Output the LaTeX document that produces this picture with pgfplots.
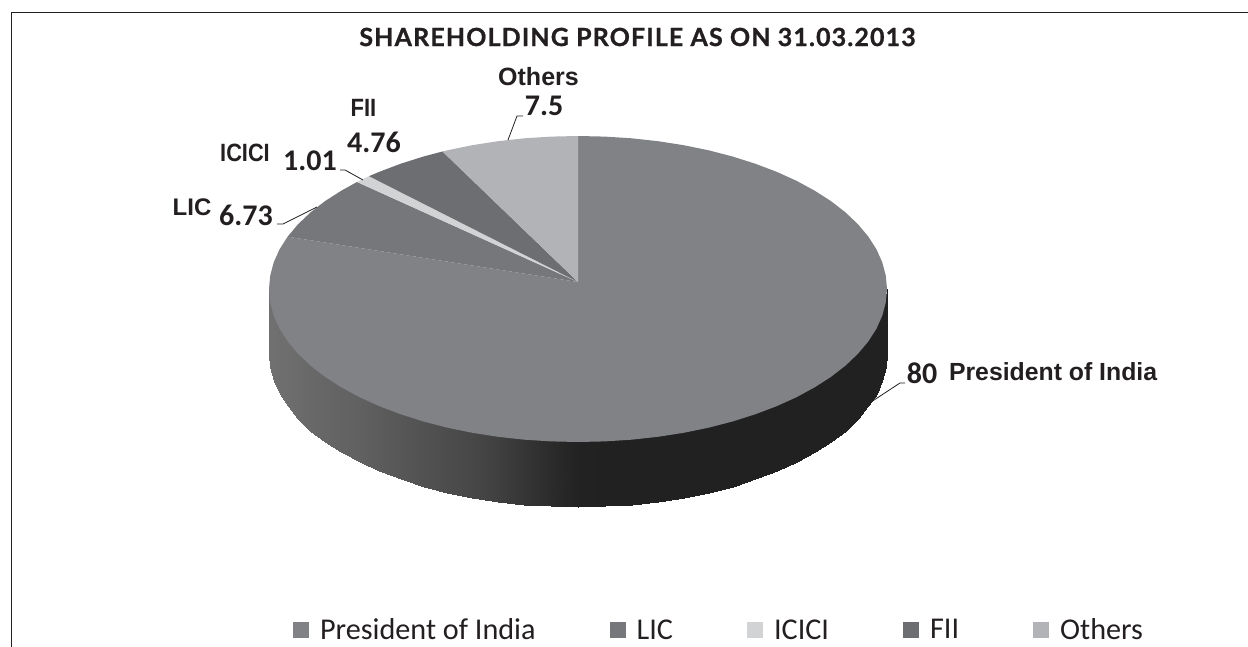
\documentclass[border=0pt]{standalone}
\usepackage{pgfplots}
\pgfplotsset{compat=1.18}
\usepackage{fontspec}
\setmainfont{Liberation Sans}
\newfontfamily\numfont{Carlito}
\newfontfamily\titlefont[LetterSpace=4.5,BoldFeatures={FakeBold=0.9}]{Lato}
\definecolor{cP}{RGB}{128,130,133}
\definecolor{cL}{RGB}{118,119,122}
\definecolor{cI}{RGB}{209,211,212}
\definecolor{cF}{RGB}{109,110,113}
\definecolor{cO}{RGB}{177,179,182}
\definecolor{ink}{RGB}{35,31,32}
\begin{document}
\begin{tikzpicture}
\useasboundingbox (0,0) rectangle (1248pt,647pt);
\begin{axis}[
  at={(0,0)}, anchor=south west,
  scale only axis, width=1248pt, height=647pt,
  xmin=0, xmax=1248, ymin=0, ymax=647, y dir=reverse,
  hide axis, clip=false,
  colormap={g}{gray(0cm)=(0); gray(1cm)=(1)},
  point meta min=0, point meta max=1,
  legend columns=5,
  legend cell align=left,
  legend image code/.code={\path[#1,draw=none] (0pt,-8pt) rectangle (16pt,8pt);},
  legend style={at={(0.2348,0.0263)},anchor=west,draw=none,fill=none,inner sep=0pt,outer sep=0pt,
    font=\fontsize{30.2}{30.2}\numfont\color{ink},
    nodes={inner sep=0pt,outer sep=0pt},
    /tikz/every even column/.append style={column sep=74pt},
    /tikz/every odd column/.append style={column sep=11pt}},
]
% side wall (upper edge runs a little under the top face)
\addplot[surf,shader=interp,mesh/cols=2,point meta=explicit,forget plot] table[meta=c] {
x y c
269.0 289.0 .44
269.0 354.0 .44
270.2 298.3 .44
270.2 367.3 .44
273.7 311.6 .44
273.7 380.6 .44
279.5 324.6 .43
279.5 393.6 .43
287.6 337.3 .43
287.6 406.3 .43
298.0 349.7 .42
298.0 418.7 .42
310.4 361.5 .41
310.4 430.5 .41
324.9 372.8 .40
324.9 441.8 .40
341.3 383.3 .39
341.3 452.3 .39
359.5 393.2 .38
359.5 462.2 .38
379.4 402.2 .36
379.4 471.2 .36
400.8 410.3 .34
400.8 479.3 .34
423.5 417.5 .32
423.5 486.5 .32
447.4 423.7 .30
447.4 492.7 .30
472.3 428.8 .28
472.3 497.8 .28
498.0 432.8 .25
498.0 501.8 .25
524.4 435.7 .21
524.4 504.7 .21
551.1 437.4 .17
551.1 506.4 .17
578.0 438.0 .135
578.0 507.0 .135
604.9 437.4 .13
604.9 506.4 .13
631.6 435.7 .13
631.6 504.7 .13
658.0 432.8 .13
658.0 501.8 .13
683.7 428.8 .13
683.7 497.8 .13
708.6 423.7 .13
708.6 492.7 .13
732.5 417.5 .13
732.5 486.5 .13
755.2 410.3 .13
755.2 479.3 .13
776.6 402.2 .13
776.6 471.2 .13
796.5 393.2 .13
796.5 462.2 .13
814.7 383.3 .13
814.7 452.3 .13
831.1 372.8 .13
831.1 441.8 .13
845.6 361.5 .13
845.6 430.5 .13
858.0 349.7 .13
858.0 418.7 .13
868.4 337.3 .13
868.4 406.3 .13
876.5 324.6 .13
876.5 393.6 .13
882.3 311.6 .13
882.3 380.6 .13
885.8 298.3 .13
885.8 367.3 .13
887.0 289.0 .13
887.0 354.0 .13
};
% President of India
\addplot[fill=cP,draw=none] coordinates {
(578,282) (578,136) (604.9,136.6) (631.6,138.3) (658,141.2) (683.7,145.2) (708.6,150.3) (732.5,156.5) (755.2,163.7) (776.6,171.8) (796.5,180.8) (814.7,190.7) (831.1,201.2) (845.6,212.5) (858,224.3) (868.4,236.7) (876.5,249.4) (882.3,262.4) (885.8,275.7) (887,289)
(885.8,302.3) (882.3,315.6) (876.5,328.6) (868.4,341.3) (858,353.7) (845.6,365.5) (831.1,376.8) (814.7,387.3) (796.5,397.2) (776.6,406.2) (755.2,414.3) (732.5,421.5) (708.6,427.7) (683.7,432.8) (658,436.8) (631.6,439.7) (604.9,441.4) (578,442)
(551.1,441.4) (524.4,439.7) (498,436.8) (472.3,432.8) (447.4,427.7) (423.5,421.5) (400.8,414.3) (379.4,406.2) (359.5,397.2) (341.3,387.3) (324.9,376.8) (310.4,365.5) (298,353.7) (287.6,341.3) (279.5,328.6) (273.7,315.6) (270.2,302.3) (269,289)
(270.2,275.7) (273.7,262.4) (279.5,249.4) (287.6,236.7) (578,282)
} --cycle;
\addlegendentry{President of India}
% LIC
\addplot[fill=cL,draw=none] coordinates {
(578,282) (287.6,236.7) (298,224.3) (310.4,212.5) (324.9,201.2) (341.3,190.7) (357,182) (578,282)
} --cycle;
\addlegendentry{LIC}
% ICICI
\addplot[fill=cI,draw=none] coordinates {
(578,282) (357,182) (359.5,180.8) (369,176.2) (578,282)
} --cycle;
\addlegendentry{ICICI}
% FII
\addplot[fill=cF,draw=none] coordinates {
(578,282) (369,176.2) (379.4,171.8) (400.8,163.7) (423.5,156.5) (442.5,151.5) (578,282)
} --cycle;
\addlegendentry{FII}
% Others
\addplot[fill=cO,draw=none] coordinates {
(578,282) (442.5,151.5) (447.4,150.3) (472.3,145.2) (498,141.2) (524.4,138.3) (551.1,136.6) (578,136) (578,282)
} --cycle;
\addlegendentry{Others}
% frame
\addplot[ink,line width=1.6pt,forget plot] coordinates {(11.5,647) (11.5,12.5) (1248,12.5)};
% leaders
\addplot[ink,line width=0.8pt,forget plot] coordinates {(508,140) (517,116) (523,116)};
\addplot[ink,line width=0.8pt,forget plot] coordinates {(363,180) (345,170) (340,170)};
\addplot[ink,line width=0.8pt,forget plot] coordinates {(317,207) (283,224) (277,224)};
\addplot[ink,line width=0.8pt,forget plot] coordinates {(868,404) (900,383) (905,383)};
% text
\node[text=ink,font=\fontsize{25}{25}\titlefont\bfseries] at (axis cs:637.5,37) {SHAREHOLDING PROFILE AS ON 31.03.2013};
\node[text=ink,font=\fontsize{25}{25}\bfseries] at (axis cs:538.5,77) {Others};
\node[text=ink,font=\fontsize{30}{30}\numfont\bfseries] at (axis cs:544,106) {7.5};
\node[text=ink,font=\fontsize{25}{25}\bfseries] at (axis cs:363.5,108) {\scalebox{.88}[1]{FII}};
\node[text=ink,font=\fontsize{30}{30}\numfont\bfseries] at (axis cs:374,142) {4.76};
\node[text=ink,font=\fontsize{25}{25}\bfseries] at (axis cs:245,153) {\scalebox{.87}[1]{ICICI}};
\node[text=ink,font=\fontsize{30}{30}\numfont\bfseries] at (axis cs:310,161) {1.01};
\node[text=ink,font=\fontsize{24}{24}\bfseries] at (axis cs:192,207) {LIC};
\node[text=ink,font=\fontsize{30}{30}\numfont\bfseries] at (axis cs:246,215) {6.73};
\node[text=ink,font=\fontsize{30}{30}\numfont\bfseries] at (axis cs:922,373) {80};
\node[text=ink,font=\fontsize{24.8}{24.8}\bfseries,anchor=west] at (axis cs:945.5,372) {President of India};
\end{axis}
\end{tikzpicture}
\end{document}
